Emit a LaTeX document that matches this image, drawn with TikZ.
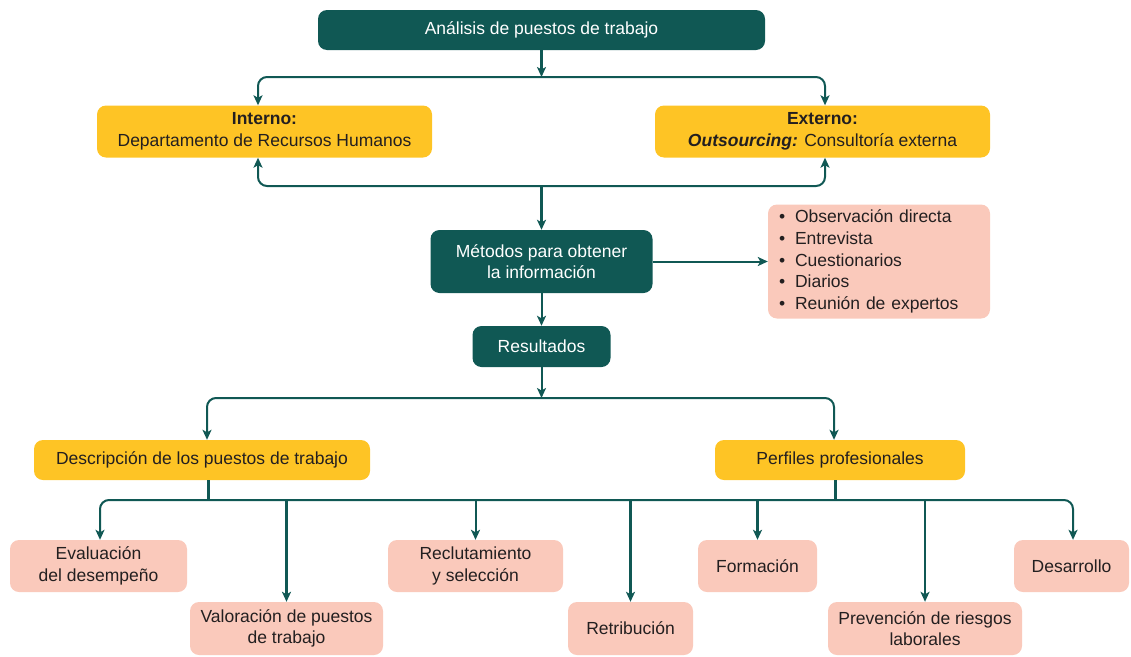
\documentclass[tikz,border=0pt]{standalone}
\usepackage{fontspec}
\setmainfont{Liberation Sans}
\usetikzlibrary{arrows.meta}
\definecolor{apteal}{RGB}{16,88,84}
\definecolor{apyellow}{RGB}{254,196,37}
\definecolor{appink}{RGB}{250,201,187}
\definecolor{aptext}{RGB}{35,31,32}
\begin{document}
\begin{tikzpicture}[x=1pt,y=-1pt,
  font=\fontsize{17.5}{21.5}\selectfont,
  box/.style={rounded corners=9pt, align=center, inner sep=0pt},
  dark/.style={box, fill=apteal, text=white},
  gold/.style={box, fill=apyellow, text=aptext},
  rose/.style={box, fill=appink, text=aptext},
  link/.style={draw=apteal, line width=2pt},
  heavy/.style={line width=3pt},
  tip/.tip={Stealth[length=10pt,width=9pt,inset=2.5pt]},
  arrowlink/.style={link, -tip},
  twoway/.style={link, tip-tip, rounded corners=9pt}]
\useasboundingbox (0,0) rectangle (1131,656);

% boxes
\node[dark, minimum width=447pt, minimum height=40pt] (top) at (541.5,30) {Análisis de puestos de trabajo};
\node[gold, minimum width=335pt, minimum height=52pt] (int) at (264.5,131.5) {\textbf{Interno:}\\Departamento de Recursos Humanos};
\node[gold, minimum width=335pt, minimum height=52pt] (ext) at (822.5,131.5) {\textbf{Externo:}\\\textbf{\textit{Outsourcing:}} Consultoría externa};
\node[dark, minimum width=222pt, minimum height=63pt] (met) at (541.5,261.5) {Métodos para obtener\\la información};
\node[rose, minimum width=222pt, minimum height=114pt, text width=200pt, align=left,
      font=\fontsize{17.5}{21.8}\selectfont] (list) at (879,261.5)
  {\makebox[16pt][l]{\textbullet}Observación directa\\
   \makebox[16pt][l]{\textbullet}Entrevista\\
   \makebox[16pt][l]{\textbullet}Cuestionarios\\
   \makebox[16pt][l]{\textbullet}Diarios\\
   \makebox[16pt][l]{\textbullet}Reunión de expertos};
\node[dark, minimum width=138pt, minimum height=41pt] (res) at (541.5,346.5) {Resultados};
\node[gold, minimum width=336pt, minimum height=40pt] (desc) at (202,460) {Descripción de los puestos de trabajo};
\node[gold, minimum width=250pt, minimum height=40pt] (perf) at (840,460) {Perfiles profesionales};

\node[rose, minimum width=177pt, minimum height=52pt] (eval) at (98.5,566) {Evaluación\\del desempeño};
\node[rose, minimum width=193pt, minimum height=53pt] (valo) at (286.5,628.5) {Valoración de puestos\\de trabajo};
\node[rose, minimum width=175pt, minimum height=52pt] (recl) at (475.5,566) {Reclutamiento\\y selección};
\node[rose, minimum width=125pt, minimum height=53pt] (retr) at (630.5,628.5) {Retribución};
\node[rose, minimum width=119pt, minimum height=52pt] (form) at (757.5,566) {Formación};
\node[rose, minimum width=194pt, minimum height=53pt] (prev) at (925,628.5) {Prevención de riesgos\\laborales};
\node[rose, minimum width=115pt, minimum height=52pt] (desa) at (1071.5,566) {Desarrollo};

% junction points of the branching bars
\coordinate (aL) at (258,77);   \coordinate (aR) at (825,77);
\coordinate (bL) at (258,186);  \coordinate (bR) at (825,186);
\coordinate (cL) at (207,398);  \coordinate (cR) at (834,398);
\coordinate (dL) at (100,500);  \coordinate (dR) at (1073,500);
\coordinate (dD) at (208,500);  \coordinate (dP) at (835,500);

% top: analysis -> internal / external
\draw[arrowlink, heavy] (top.south) -- (top.south |- aL);
\draw[twoway] (int.north -| aL) |- (aR) -- (ext.north -| aR);

% internal / external -> methods
\draw[twoway] (int.south -| bL) |- (bR) -- (ext.south -| bR);
\draw[arrowlink, heavy] (met.north |- bL) -- (met.north);

% methods -> list, methods -> results
\draw[arrowlink] (met.east) -- (list.west);
\draw[arrowlink] (met.south) -- (res.north);

% results -> description / profiles
\draw[arrowlink] (res.south) -- (res.south |- cL);
\draw[twoway] (desc.north -| cL) |- (cR) -- (perf.north -| cR);

% description / profiles -> applications
\draw[link, heavy] (desc.south -| dD) -- (dD);
\draw[link, heavy] (perf.south -| dP) -- (dP);
\draw[twoway] (eval.north -| dL) |- (dR) -- (desa.north -| dR);
\draw[arrowlink, heavy] (valo.north |- dL) -- (valo.north);
\draw[arrowlink] (recl.north |- dL) -- (recl.north);
\draw[arrowlink, heavy] (retr.north |- dL) -- (retr.north);
\draw[arrowlink, heavy] (form.north |- dL) -- (form.north);
\draw[arrowlink] (prev.north |- dL) -- (prev.north);
\end{tikzpicture}
\end{document}
